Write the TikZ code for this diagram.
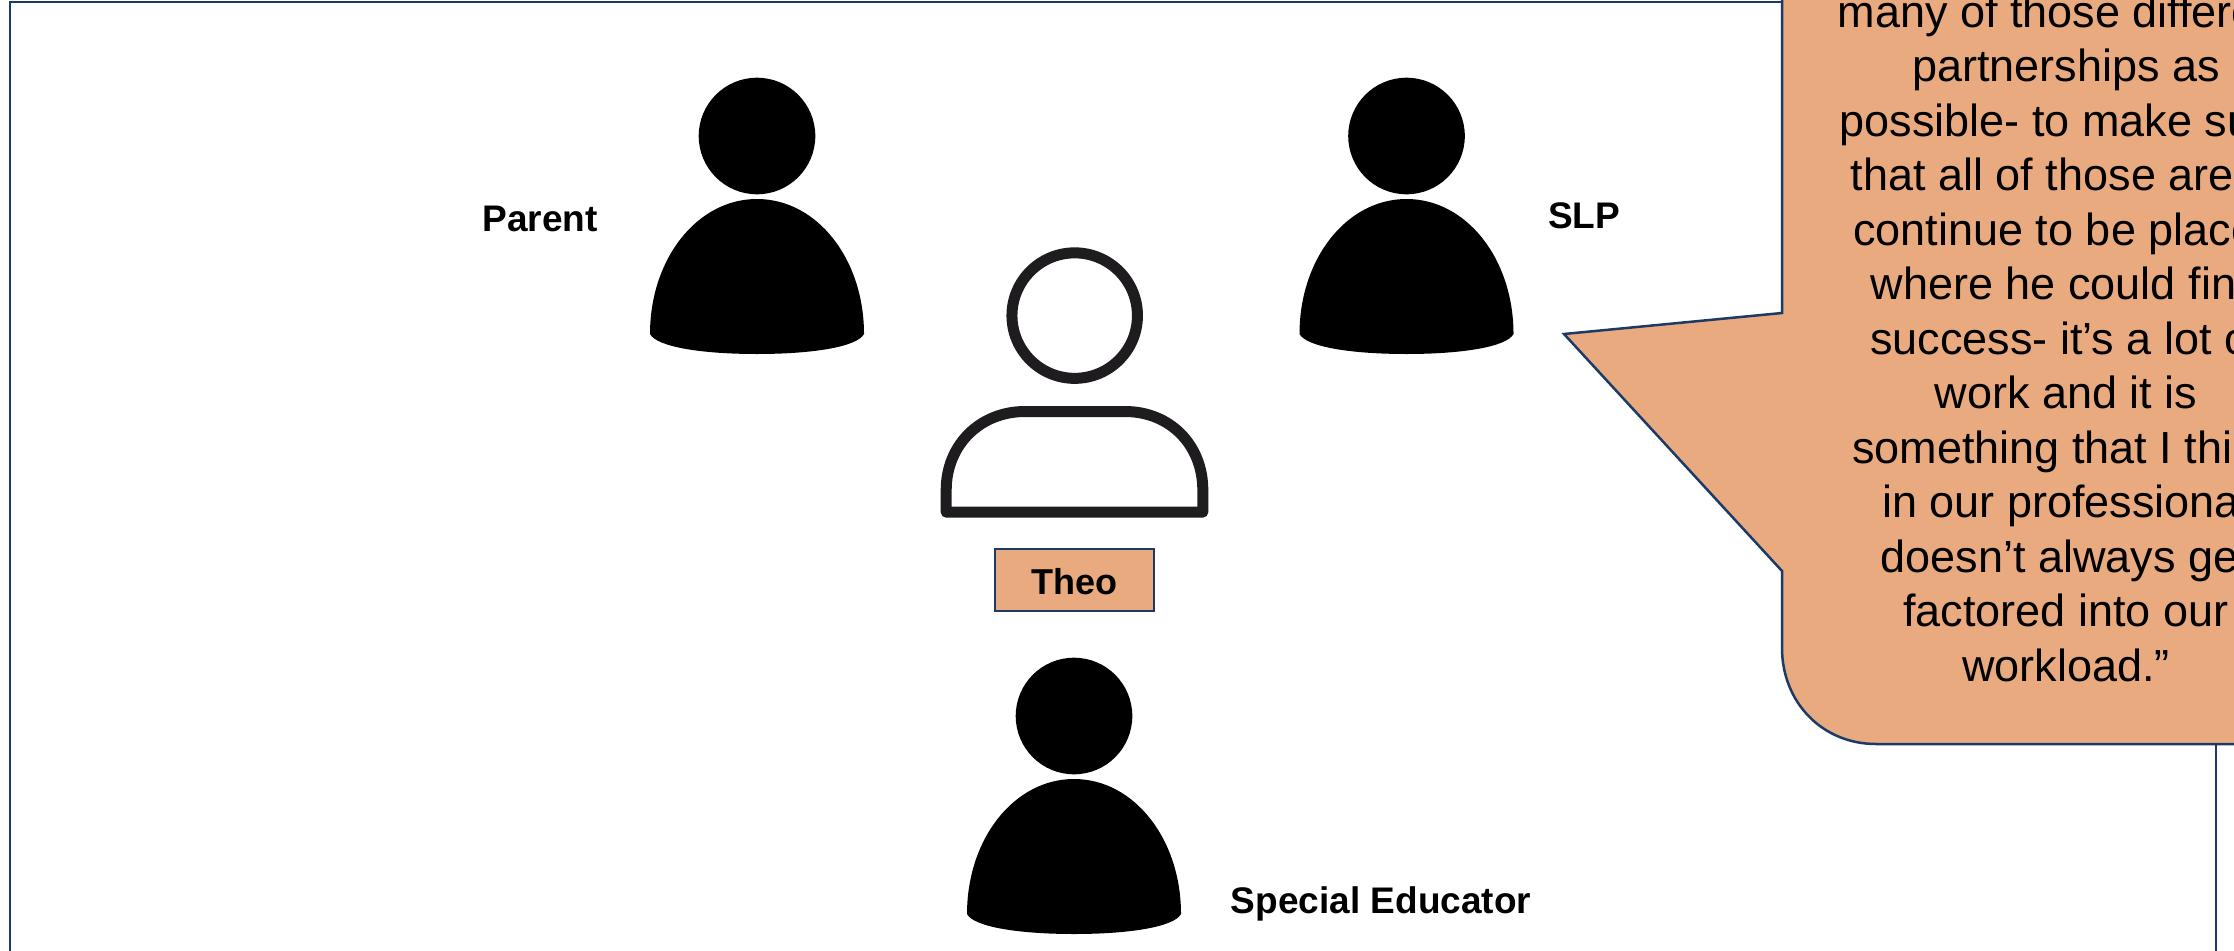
\documentclass[tikz,border=0pt]{standalone}
\usepackage{fontspec}
\setmainfont{Liberation Sans}
\definecolor{navy}{HTML}{1B3A66}
\definecolor{peach}{HTML}{E9AA80}
\definecolor{ink}{HTML}{1E1C1E}
\tikzset{
  framed/.style={draw=navy,line width=2.5pt},
  who/.style={font=\fontsize{37}{44}\selectfont\bfseries,inner sep=0pt,anchor=base,text=black},
  head/.style={circle,fill=black,minimum size=116.6pt,inner sep=0pt,draw=none},
}
\newcommand{\solidperson}[3]{%
  \node[head] (#3head) at (#1,#2-218) {};
  \fill[black] (#1-107,#2-20) .. controls (#1-107,#2-95) and (#1-60,#2-155) .. (#1,#2-155)
     .. controls (#1+60,#2-155) and (#1+107,#2-95) .. (#1+107,#2-20)
     .. controls (#1+100,#2-7) and (#1+55,#2) .. (#1,#2)
     .. controls (#1-55,#2) and (#1-100,#2-7) .. (#1-107,#2-20) -- cycle;
}
\begin{document}
\begin{tikzpicture}[x=1pt,y=-1pt]
\useasboundingbox (0,0) rectangle (2234,950);
\clip (0,0) rectangle (2234,950);
\draw[framed] (10,2) rectangle (2216,1000);
% callout
\draw[framed,fill=peach,line join=miter] (1782,-200) -- (1782,313) -- (1564,334) -- (1782,571) -- (1782,648)
  .. controls (1782,702) and (1822,744) .. (1876,744) -- (2400,744) -- (2400,-200) -- cycle;
\node[inner sep=0pt,anchor=south,align=center,font=\fontsize{45}{54.5}\selectfont] (quote) at (2066,682)
 {many of those different\\
  partnerships as\\
  possible- to make sure\\
  that all of those areas\\
  continue to be places\\
  where he could find\\
  success- it’s a lot of\\
  work and it is\\
  something that I think\\
  in our professional\\
  doesn’t always get\\
  factored into our\\
  workload.”};
% people
\solidperson{757}{354}{parent}
\solidperson{1406.5}{354}{slp}
\solidperson{1074}{934}{educator}
\node[who] (parentlabel) at (540,231) {Parent};
\node[who] (slplabel) at (1584,228) {SLP};
\node[who] (educatorlabel) at (1381,913) {Special Educator};
% Theo
\node[circle,draw=ink,line width=11pt,minimum size=125.5pt,inner sep=0pt,fill=white] (theohead) at (1074.7,315.6) {};
\draw[ink,line width=11pt,line join=round] (946.2,512.2) -- (946.2,490) .. controls (946.2,445) and (980,411.5) .. (1025,411.5)
  -- (1125,411.5) .. controls (1170,411.5) and (1202.8,445) .. (1202.8,490) -- (1202.8,512.2) -- cycle;
\node[framed,line width=2pt,fill=peach,minimum width=159pt,minimum height=62pt,inner sep=0pt,text height=32pt,text depth=3.4pt,font=\fontsize{36}{44}\selectfont\bfseries] (theo) at (1074.5,580) {Theo};
\end{tikzpicture}
\end{document}
